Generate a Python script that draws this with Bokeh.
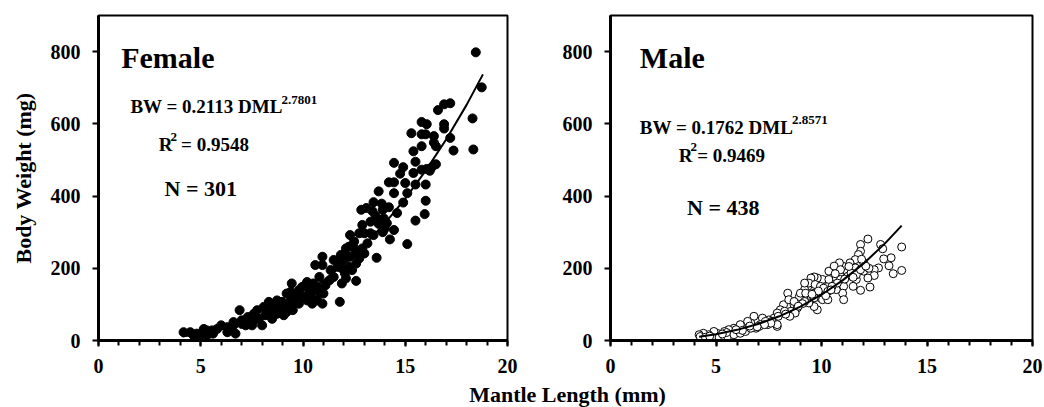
from bokeh.plotting import figure
from bokeh.layouts import row, column
from bokeh.models import Label, FixedTicker, Range1d
from bokeh.embed import file_html
from bokeh.resources import INLINE

FONT = "Liberation Serif"

# ---------------- data ----------------
female_x = [18.45, 18.74, 18.29, 18.33, 16.9, 17.2, 16.6, 16.9, 16.9, 17.2, 17.36,
            15.3, 15.8, 16.05, 15.8, 16.0, 15.8, 16.4, 16.4, 16.5, 15.4, 15.5, 15.4, 15.8, 16.05, 16.0, 15.5, 16.0, 15.95, 15.5, 15.1,
            14.45, 14.9, 14.75, 15.0, 15.1, 14.9, 14.45, 14.2, 14.45, 13.7, 13.45, 13.85, 14.2, 14.6, 14.45, 14.25, 13.7, 13.55, 13.95, 13.9, 14.1, 13.4,
            12.85, 13.1, 12.9, 13.3, 13.45, 13.6, 12.3, 12.5, 12.75, 12.1, 12.25, 11.85, 12.3, 12.6, 12.4, 11.9, 12.1, 12.6, 11.9, 11.8, 12.9, 13.0, 12.75, 13.15, 13.3, 13.0,
            10.95, 10.6, 10.95, 11.35, 11.3, 10.8, 10.5, 11.0, 10.95, 10.45, 10.2, 9.95, 9.45, 9.4, 9.7, 9.6, 9.5, 10.0, 10.35, 10.7, 10.5, 9.2,
            8.98, 8.73, 8.57, 8.33, 8.08, 8.41, 8.73, 9.06, 8.16, 7.84, 7.6, 7.27, 7.51, 8.0, 8.49, 9.4, 9.2, 8.8,
            6.9, 6.6, 6.7, 6.45, 6.3, 6.0, 5.8, 5.55, 5.3, 5.06, 4.95, 4.65, 4.49, 4.16, 5.3, 5.6, 5.15, 4.8, 7.0, 7.3,
            9.5, 9.8, 10.1, 10.3, 10.7, 11.1, 11.5, 11.7, 11.85, 12.2, 12.5, 12.6, 11.5, 12.05, 12.25, 16.3, 16.5, 16.2,
            7.6, 7.76, 8.2, 8.57, 8.9, 9.15, 9.4, 9.8, 9.8, 10.2, 10.45, 10.8, 6.3, 6.6, 7.0,
            7.2, 7.4, 13.9, 14.0]
female_y = [798, 701, 615, 529, 654, 657, 638, 599, 587, 561, 526,
            574, 605, 599, 571, 571, 538, 566, 548, 538, 524, 495, 464, 473, 475, 432, 432, 387, 350, 332, 267,
            492, 480, 462, 436, 408, 382, 408, 438, 438, 413, 383, 379, 369, 353, 306, 280, 323, 345, 338, 362, 325, 358,
            362, 367, 320, 329, 292, 229, 292, 274, 297, 255, 260, 237, 232, 213, 195, 200, 172, 165, 158, 107, 255, 241, 227, 269, 297, 297,
            232, 209, 209, 195, 167, 176, 158, 130, 102, 102, 162, 148, 158, 135, 130, 107, 84, 121, 125, 111, 139, 130,
            107, 111, 93, 107, 93, 79, 74, 70, 70, 60, 56, 51, 42, 42, 60, 97, 79, 88,
            84, 51, 19, 32, 23, 42, 32, 28, 28, 23, 14, 14, 23, 23, 14, 19, 32, 19, 56, 65,
            116, 139, 153, 139, 148, 153, 176, 204, 218, 232, 255, 241, 223, 186, 204, 480, 488, 470,
            74, 84, 84, 70, 97, 93, 111, 102, 116, 111, 116, 134, 37, 42, 46,
            42, 58, 300, 310]

male_x = [13.8, 13.8, 13.4, 13.3, 13.2, 12.95, 12.8, 12.9, 12.7, 12.5, 12.5, 12.2, 11.85, 11.85, 12.0, 12.0, 12.2, 12.3, 11.85, 11.65,
          11.5, 11.75, 11.6, 11.35, 11.2, 11.0, 10.85, 10.85, 11.05, 11.0, 11.05, 10.7, 10.5, 10.35, 10.6, 10.3, 10.1, 9.95, 10.05, 9.8,
          9.65, 9.5, 9.9, 9.65, 9.5, 9.8, 9.65, 9.35, 9.2, 9.0, 8.95, 8.7, 8.55, 8.4, 8.2, 8.05, 7.9, 7.75, 7.5, 7.45,
          7.9, 7.2, 7.1, 6.8, 6.9, 6.65, 6.5, 6.35, 6.15, 6.0, 5.85, 5.7, 5.6, 5.4, 5.2, 5.05, 4.9, 4.65, 4.4, 4.2,
          4.25, 4.5, 4.8, 5.15, 5.4, 5.55, 5.85, 6.15, 6.4, 6.65, 7.05, 7.35, 7.65, 7.95, 8.25, 8.45, 8.7, 9.0, 9.25, 9.4,
          9.2, 9.7, 9.95, 10.1, 10.35, 10.7, 10.9, 11.25, 11.6, 11.4, 11.65, 11.85, 10.9, 10.75, 10.5, 10.3, 10.05, 10.3, 9.65, 9.4,
          9.2, 8.85, 8.75, 8.5, 7.9, 12.25,
          10.2, 10.45, 10.65, 11.1, 11.3, 11.5, 11.9, 12.1, 9.85, 9.55, 9.1, 8.9, 8.3, 7.6, 7.3, 6.95, 6.6, 6.25, 5.95, 5.5, 5.3, 4.7]
male_y = [259, 194, 185, 229, 207, 226, 266, 254, 201, 196, 180, 281, 266, 247, 215, 192, 173, 148, 139, 169,
          150, 238, 224, 215, 192, 206, 215, 182, 150, 131, 113, 141, 178, 192, 206, 150, 131, 118, 169, 173,
          176, 173, 141, 131, 113, 85, 94, 150, 141, 113, 122, 99, 81, 131, 99, 85, 76, 62, 57, 44,
          39, 62, 44, 67, 34, 48, 53, 30, 44, 25, 34, 20, 30, 25, 16, 20, 25, 16, 20, 16,
          11, 9, 9, 9, 11, 11, 16, 20, 25, 34, 39, 53, 53, 67, 81, 113, 108, 131, 131, 159,
          159, 155, 150, 145, 169, 173, 169, 178, 201, 187, 182, 196, 196, 159, 150, 136, 113, 113, 118, 104,
          108, 90, 76, 67, 44, 200,
          124, 140, 185, 170, 205, 175, 225, 206, 137, 128, 102, 95, 73, 48, 44, 38, 40, 28, 30, 22, 18, 12]

female_fit_x = [4.1, 5, 6, 7, 8, 9, 10, 11, 12, 13, 14, 15, 16, 17, 18, 18.8]
female_fit_y = [10.7, 18.5, 30.8, 47.2, 68.5, 95.0, 127.3, 166.0, 211.4, 264.0, 324.6, 393.0, 470.3, 556.6, 652.5, 737.0]
male_fit_x = [4.2, 5, 6, 7, 8, 9, 10, 11, 12, 13, 13.8]
male_fit_y = [10.6, 17.5, 29.5, 45.8, 67.0, 93.8, 126.8, 166.5, 213.5, 268.3, 318.0]

x_ticks = [0, 5, 10, 15, 20]
x_minor = list(range(0, 21))
y_ticks = [0, 200, 400, 600, 800]

female_texts = {"title": "Female", "eq": "BW = 0.2113 DML", "exp": "2.7801", "r2": "= 0.9548", "n": "N = 301"}
male_texts = {"title": "Male", "eq": "BW = 0.1762 DML", "exp": "2.8571", "r2": "= 0.9469", "n": "N = 438"}

ROW_H = 382


def panel(width, left, right):
    p = figure(width=width, height=ROW_H, x_range=Range1d(0, 20), y_range=Range1d(0, 900),
               output_backend="svg", toolbar_location=None, title=None,
               min_border_left=left, min_border_right=right, min_border_top=15,
               min_border_bottom=ROW_H - 340)
    p.grid.visible = False
    p.outline_line_color = "black"
    p.outline_line_width = 2
    p.background_fill_color = "white"
    p.border_fill_color = "white"
    p.xaxis.ticker = FixedTicker(ticks=x_ticks, minor_ticks=x_minor)
    p.yaxis.ticker = FixedTicker(ticks=y_ticks, minor_ticks=[])
    p.axis.axis_line_width = 3
    p.axis.axis_line_color = "black"
    p.axis.major_tick_line_width = 2
    p.axis.major_tick_line_color = "black"
    p.axis.major_tick_out = 6
    p.axis.major_tick_in = 0
    p.axis.minor_tick_out = 5
    p.axis.minor_tick_in = 0
    p.axis.minor_tick_line_width = 2
    p.axis.minor_tick_line_color = "black"
    p.axis.major_label_text_font = FONT
    p.axis.major_label_text_font_style = "bold"
    p.axis.major_label_text_font_size = "20px"
    p.axis.major_label_text_color = "black"
    p.axis.major_label_standoff = 12
    p.yaxis.minor_tick_line_color = None
    return p


def lbl(p, x, y, text, size):
    p.add_layout(Label(x=x, y=y, text=text, text_font=FONT, text_font_style="bold",
                       text_font_size=size, text_color="black", text_baseline="alphabetic"))


p1 = panel(540, 98, 33)
p1.scatter(female_x, female_y, size=9, fill_color="black", line_color="black")
p1.line(female_fit_x, female_fit_y, line_color="black", line_width=2)
p1.yaxis.axis_label = "Body Weight (mg)"
p1.yaxis.axis_label_text_font = FONT
p1.yaxis.axis_label_text_font_style = "bold"
p1.yaxis.axis_label_text_font_size = "22px"
p1.yaxis.axis_label_text_color = "black"
p1.yaxis.axis_label_standoff = 12
lbl(p1, 1.11, 783, female_texts["title"], "30px")
lbl(p1, 1.56, 648, female_texts["eq"], "19px")
lbl(p1, 8.95, 667, female_texts["exp"], "13px")
lbl(p1, 2.95, 542, "R", "19px")
lbl(p1, 3.52, 563, "2", "13px")
lbl(p1, 4.04, 542, female_texts["r2"], "19px")
lbl(p1, 3.23, 420, female_texts["n"], "22px")

p2 = panel(504, 70, 12)
p2.scatter(male_x, male_y, size=8, fill_color="white", line_color="black", line_width=1)
p2.line(male_fit_x, male_fit_y, line_color="black", line_width=2)
lbl(p2, 1.39, 783, male_texts["title"], "30px")
lbl(p2, 1.39, 591, male_texts["eq"], "19px")
lbl(p2, 8.6, 611, male_texts["exp"], "13px")
lbl(p2, 3.24, 512, "R", "19px")
lbl(p2, 3.79, 535, "2", "13px")
lbl(p2, 4.11, 512, male_texts["r2"], "19px")
lbl(p2, 3.63, 369, male_texts["n"], "22px")

p3 = figure(width=1044, height=407 - ROW_H, x_range=Range1d(0, 1044), y_range=Range1d(0, 407 - ROW_H),
            output_backend="svg", toolbar_location=None, min_border=0, title=None,
            x_axis_location=None, y_axis_location=None)
p3.grid.visible = False
p3.outline_line_color = None
p3.add_layout(Label(x=567, y=13, text="Mantle Length (mm)", text_font=FONT, text_font_style="bold",
                    text_font_size="22px", text_color="black", text_align="center", text_baseline="middle"))

layout = column(row(p1, p2), p3)
open("out.html", "w").write(file_html(layout, INLINE))
